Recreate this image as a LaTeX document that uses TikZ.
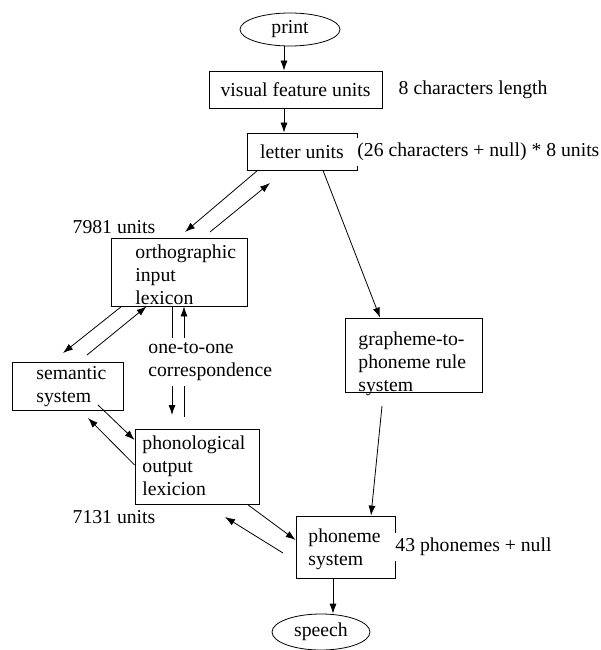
\documentclass[tikz,border=0pt]{standalone}
\usepackage{fontspec}
\setmainfont{Liberation Serif}
\usetikzlibrary{shapes.geometric,arrows.meta}

\begin{document}
\begin{tikzpicture}[x=1pt,y=-1pt,line width=0.8pt,
   every node/.style={font=\fontsize{19.7}{23}\selectfont},
   box/.style={draw,inner sep=0pt},
   oval/.style={draw,ellipse,inner sep=0pt},
   txt/.style={align=left,inner sep=0pt,anchor=north west},
   note/.style={fill=white,inner xsep=2pt,inner ysep=5pt,align=left},
   >={Latex[length=10pt,width=7pt]}]
\useasboundingbox (0,0) rectangle (601,650);

% units
\node[oval,minimum width=100pt,minimum height=33pt] (print) at (290,29.5) {print};
\node[box,minimum width=173pt,minimum height=37pt] (vis) at (295.5,89.5) {visual feature units};
\node[box,minimum width=110pt,minimum height=37pt] (let) at (302,151.5) {letter units};
\node[box,minimum width=136pt,minimum height=68pt] (oil) at (179,272) {};
\node[txt] (oiltxt) at (135,244.5) {orthographic\\input\\lexicon};
\node[box,minimum width=111pt,minimum height=48pt] (sem) at (67.5,386) {};
\node[txt] (semtxt) at (36,366.5) {semantic\\system};
\node[box,minimum width=124pt,minimum height=75pt] (pol) at (197,466.5) {};
\node[txt] (poltxt) at (142,435.5) {phonological\\output\\lexicion};
\node[box,minimum width=137pt,minimum height=74pt] (gpr) at (413.5,355) {};
\node[txt] (gprtxt) at (358,331.5) {grapheme-to-\\phoneme rule\\system};
\node[box,minimum width=99pt,minimum height=62pt] (phs) at (345.5,547) {};
\node[txt] (phstxt) at (308,528.5) {phoneme\\system};
\node[oval,minimum width=98pt,minimum height=36pt] (speech) at (321,632) {speech};

% free ends
\coordinate (a3) at (185,232);
\coordinate (a4) at (210,232);
\coordinate (b4) at (270,183);
\coordinate (a6) at (63,353);
\coordinate (a7) at (87,355);
\coordinate (a8) at (172,415);
\coordinate (a9) at (184,417);
\coordinate (a10) at (98,405);
\coordinate (a11) at (88,418);
\coordinate (a13) at (283,553);
\coordinate (b13) at (225,517);
\coordinate (a14) at (382,406);

% connections
\draw[->] ([xshift=-6pt]print.south) -- ([xshift=-11.5pt]vis.north);
\draw[->] ([xshift=-11.5pt]vis.south) -- ([xshift=-18pt]let.north);
\draw[->] ([xshift=11pt]let.south west) -- (a3);
\draw[->] (a4) -- (b4);
\draw[->] ([xshift=21pt]let.south) -- ([xshift=-33.5pt]gpr.north);
\draw[->] ([xshift=11pt]oil.south west) -- (a6);
\draw[->] (a7) -- ([xshift=36pt]oil.south west);
\draw[->] ([xshift=-7pt]oil.south) -- (a8);
\draw[->] (a9) -- ([xshift=5pt]oil.south);
\draw[->] (a10) -- ([yshift=26.5pt]pol.west);
\draw[->] ([yshift=1.5pt]pol.west) -- (a11);
\draw[->] ([xshift=-12pt]pol.south east) -- ([yshift=7pt]phs.west);
\draw[->] (a13) -- (b13);
\draw[->] (a14) -- ([xshift=25.5pt]phs.north);
\draw[->] ([xshift=-12.5pt]phs.south) -- ([xshift=12pt]speech.north);

% labels
\node[anchor=west] (vislab) at (395,90) {8 characters length};
\node[note,anchor=west] (letlab) at (355,152) {(26 characters + null) * 8 units};
\node (oilunits) at (114,227) {7981 units};
\node (polunits) at (114,517) {7131 units};
\node[note,anchor=north west] (oto) at (146,337.5) {one-to-one\\correspondence};
\node[note,anchor=west] (phslab) at (393,547) {43 phonemes + null};
\end{tikzpicture}
\end{document}
